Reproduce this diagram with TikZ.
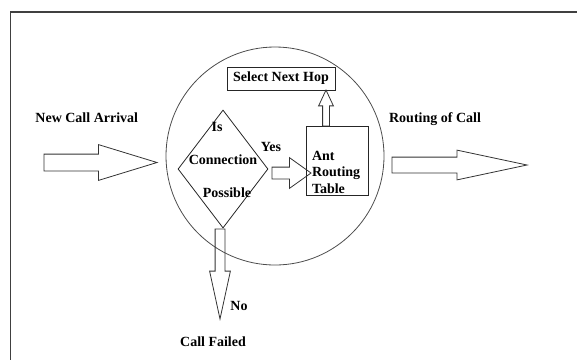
\documentclass[tikz,border=0pt]{standalone}
\usepackage{fontspec}
\setmainfont{Liberation Serif}
\usetikzlibrary{shapes.geometric,shapes.arrows,positioning}
\begin{document}
\begin{tikzpicture}[x=1pt, y=-1pt, node distance=45pt, font=\fontsize{14}{16.5}\selectfont\bfseries]
    % Styles
    \tikzstyle{txt} = [inner sep=0pt, text=black]
    \tikzstyle{box} = [rectangle, draw=black!85, line width=0.8pt, inner sep=2pt]
    \tikzstyle{fat} = [single arrow, draw=black!80, line width=0.8pt, inner xsep=0pt, outer sep=0pt, anchor=tip]
    \tikzstyle{frame} = [draw=black!75, line width=1.5pt]

    \useasboundingbox (0,0) rectangle (577,360);
    \draw [frame] (577,12) -- (10.5,12) -- (10.5,360);

    % Nodes
    \node [circle, draw=black!70, line width=0.8pt, minimum size=218pt, inner sep=0pt] (router) at (275,156) {};
    \node [diamond, draw=black!85, line width=0.8pt, minimum width=90pt, minimum height=118pt, inner sep=0pt] (check) at (223,169) {};
    \node [txt] (is) at (217,127) {Is};
    \node [txt] (conn) at (223,160) {Connection};
    \node [txt] (poss) at (227,193) {Possible};
    \node [box, minimum width=62pt, minimum height=69pt] (table) at (337,160.5) {};
    \node [txt, align=left, text width=56pt] (tabletxt) at (340,172) {Ant\\Routing\\Table};
    \node [box, minimum width=108pt, minimum height=23pt] (hop) at (281,78.5) {Select Next Hop};

    % Arrows
    \node [fat, minimum height=113pt, inner ysep=8pt, single arrow head extend=9.5pt, single arrow tip angle=34] (inarr) at (157,162.5) {};
    \node [fat, minimum height=39pt, inner ysep=5.5pt, single arrow head extend=9.5pt, single arrow tip angle=71] (yesarr) at (311,173) {};
    \node [fat, rotate=90, minimum height=36pt, inner ysep=3pt, single arrow head extend=4pt, single arrow tip angle=50] (hoparr) at (326,90) {};
    \node [fat, rotate=-90, minimum height=90pt, inner ysep=4.5pt, single arrow head extend=5.5pt, single arrow tip angle=24.5] (noarr) at (220,319) {};
    \node [fat, minimum height=135pt, inner ysep=7.5pt, single arrow head extend=7pt, single arrow tip angle=24] (outarr) at (527,165) {};

    % Labels
    \node [txt, above of=inarr] (arrival) {New Call Arrival};
    \node [txt] (routing) at (435,119) {Routing of Call};
    \node [txt] (yes) at (271,147) {Yes};
    \node [txt] (no) at (239,306) {No};
    \node [txt] (failed) at (213,342) {Call Failed};
\end{tikzpicture}
\end{document}
